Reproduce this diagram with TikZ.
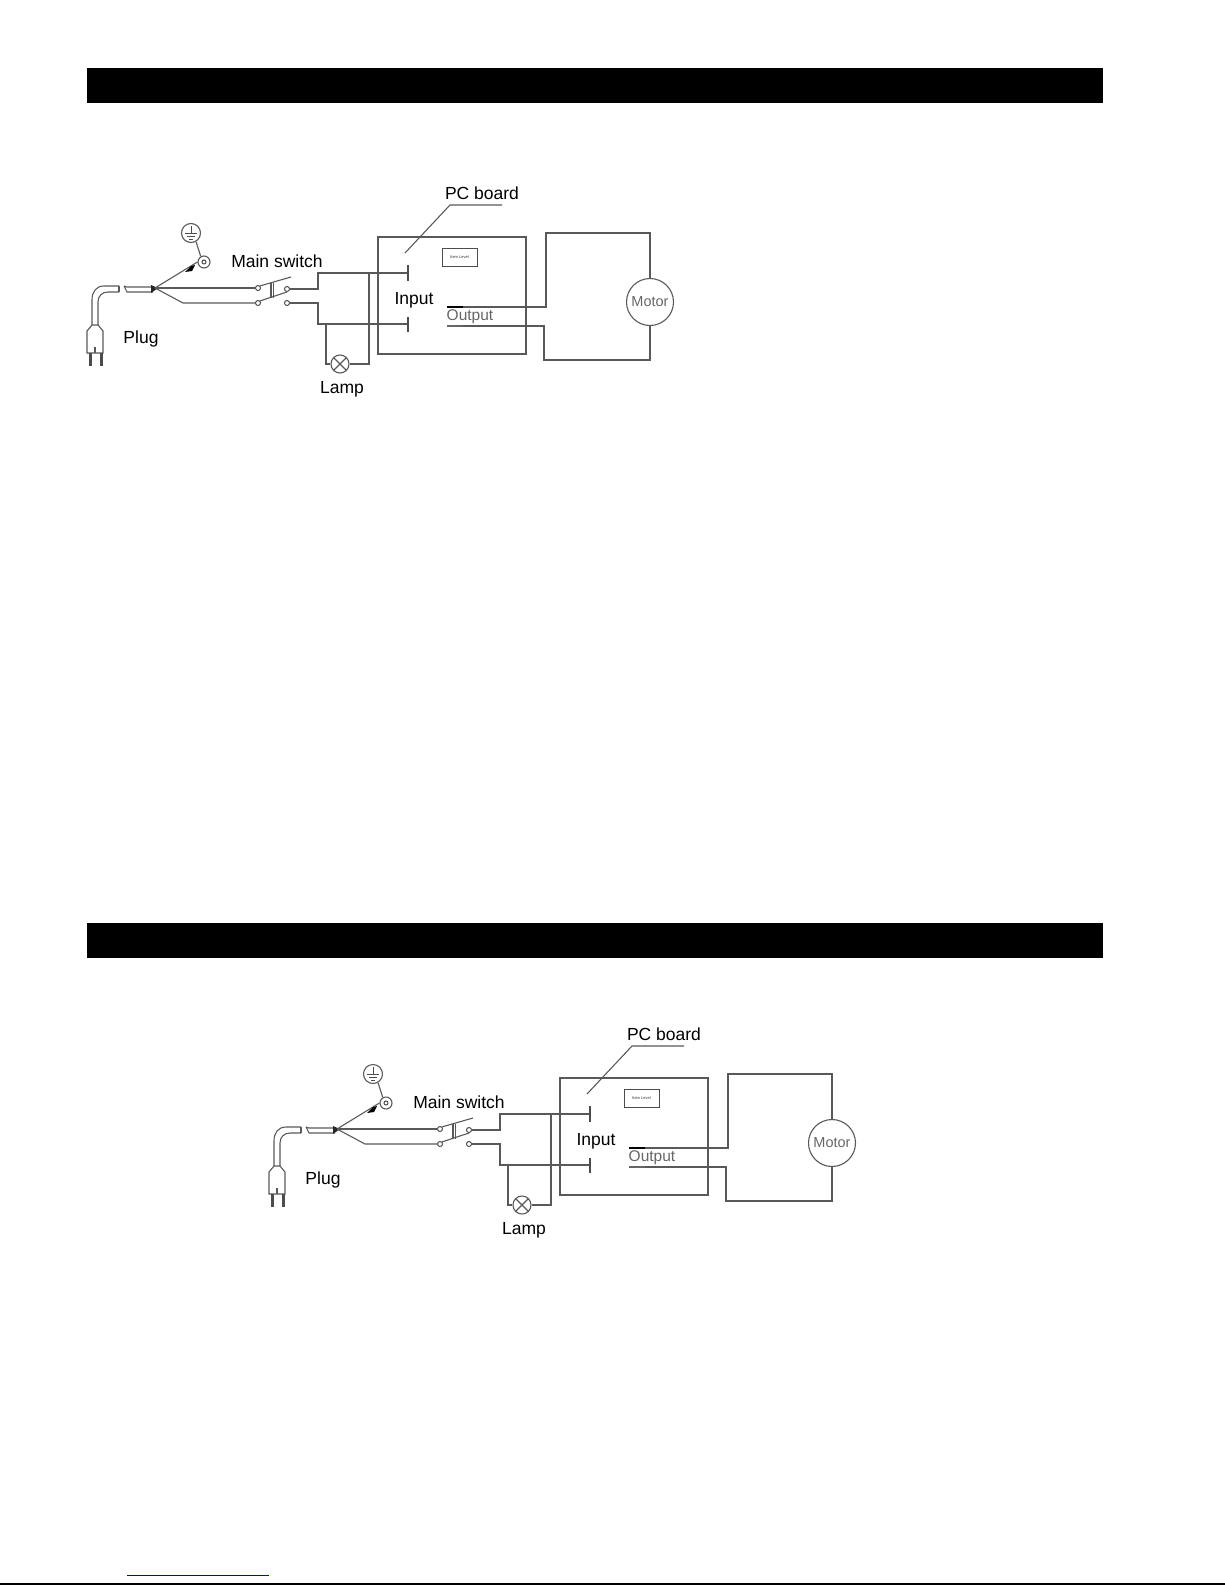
\documentclass[tikz,border=0pt]{standalone}
\usepackage{fontspec}
\setmainfont{Liberation Sans}
\tikzset{
    wire/.style={draw=black!65, line width=1.1pt},
    thinwire/.style={draw=black!70, line width=1pt},
    contact/.style={circle, thinwire, inner sep=0pt, minimum size=5pt},
    label/.style={inner sep=0pt, text=black, font=\fontsize{17.5}{20}\selectfont},
    greylabel/.style={inner sep=0pt, text=black!60, font=\fontsize{15.5}{18}\selectfont},
    titlebar/.style={fill=black, inner sep=0pt, minimum width=1016pt, minimum height=35pt},
    wiring/.pic={
        % plug and cable
        \draw[wire] (92,325) -- (92,300) .. controls (92,292) and (96,286) .. (104,286) -- (119,286);
        \draw[wire] (98,325) -- (98,302) .. controls (98,296) and (102,292) .. (108,292) -- (119,292);
        \draw[wire] (119,286) -- (119,292);
        \draw[wire] (92,325) -- (87,331) -- (87,353) -- (103,353) -- (103,331) -- (98,325) -- cycle;
        \draw[black!70, line width=3pt] (90,353) -- (90,366) (101,353) -- (101,366);
        \draw[wire] (95,347) -- (95,353);
        \coordinate (split) at (155,288);
        \draw[wire] (124,286) -- (127,287) -- (153,287) (124,286) -- (127,292) -- (153,292);
        \fill[black!85] (151,285) -- (158,288) -- (151,293) -- cycle;
        % earth lead
        \node[circle, wire, inner sep=0pt, minimum size=12pt] (lug) at (204,262) {};
        \node[circle, wire, inner sep=0pt, minimum size=19pt] (earth) at (191,233) {};
        \node[contact, minimum size=4pt] at (204,262) {};
        \draw[wire] (split) -- (lug.west);
        \fill[black] (185,272) -- (191,266) -- (195,265) -- (192,271) -- cycle;
        \draw[wire] (lug.120) -- (earth.-60);
        \draw[thinwire] (191,226) -- (191,233) (185,233) -- (197,233) (187,236) -- (195,236) (189,239) -- (193,239);
        % switch
        \node[contact] (in1) at (258,288) {};
        \node[contact] (in2) at (258,303) {};
        \node[contact] (out1) at (287,289) {};
        \node[contact] (out2) at (287,303) {};
        \coordinate (bend) at (183,303);
        \draw[wire] (split) -- (in1);
        \draw[wire] (split) -- (bend) -- (in2);
        \draw[wire] (in1.north east) -- (291,277);
        \draw[wire] (in2.north east) -- (287,292);
        \draw[wire] (271,283) -- (271,298) (273.5,283) -- (273.5,298);
        % mains to board and lamp
        \node[circle, wire, inner sep=0pt, minimum size=18pt] (lamp) at (340,364) {};
        \draw[wire] (lamp.45) -- (lamp.225) (lamp.135) -- (lamp.315);
        \coordinate (term1) at (408,273);
        \coordinate (term2) at (408,324);
        \coordinate (bus) at (369,273);
        \draw[wire] (out1) -- (318,289) -- (318,273) -- (term1);
        \draw[wire] (out2) -- (318,303) -- (318,324) -- (term2);
        \draw[wire] (326,324) |- (lamp.west);
        \draw[wire] (bus) |- (lamp.east);
        \draw[black!70, line width=2.2pt] (408,265) -- (408,281) (408,317) -- (408,332);
        % PC board
        \node[wire, minimum width=148pt, minimum height=117pt, inner sep=0pt] (board) at (452,295.5) {};
        \node[thinwire, minimum width=35pt, minimum height=18pt, inner sep=0pt,
              font=\fontsize{4}{5}\selectfont, text=black!80] (level) at (459.5,257) {Item Level};
        \node[label] (pc) at (482,193) {PC board};
        \node[label] (input) at (414,300) {Input};
        \node[greylabel] (output) at (470,316.5) {Output};
        \draw[wire] (502,205) -- (450,205) -- (405,253);
        % motor
        \node[circle, wire, inner sep=0pt, minimum size=47pt, text=black!60, font=\fontsize{14.5}{16}\selectfont] (motor) at (650,302) {Motor};
        \draw[wire] (447,307) -- (546,307) -- (546,233) -- (650,233) -- (motor.north);
        \draw[wire] (447,326) -- (544,326) -- (544,360) -- (650,360) -- (motor.south);
        \draw[black, line width=1.6pt] (447,307) -- (463,307);
        \draw[black!60, line width=2pt] (447,326) -- (463,326);
        \node[label] (switch) at (277,261) {Main switch};
        \node[label] (plug) at (141,339) {Plug};
        \node[label] (lampname) at (342,389) {Lamp};
    }
}

\begin{document}
\begin{tikzpicture}[x=1pt, y=-1pt]
    \useasboundingbox (0,0) rectangle (1225,1585);
    \node[titlebar] (bar1) at (595,85.5) {};
    \node[titlebar] (bar2) at (595,940.5) {};

    \path (0,0) pic (a) {wiring};
    \path (182,841) pic (b) {wiring};

    \coordinate (linkl) at (127,1575);
    \coordinate (linkr) at (269,1575);
    \coordinate (rulel) at (0,1584);
    \coordinate (ruler) at (1225,1584);
    \draw[blue!85!black, line width=1pt] (linkl) -- (linkr);
    \draw[black, line width=1.4pt] (rulel) -- (ruler);
\end{tikzpicture}
\end{document}
